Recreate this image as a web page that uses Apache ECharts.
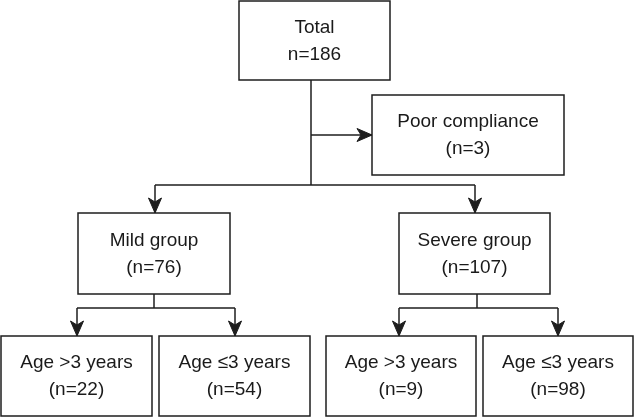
<!DOCTYPE html>
<html>
<head>
<meta charset="utf-8">
<script src="https://cdn.jsdelivr.net/npm/echarts@6/dist/echarts.min.js"></script>
<style>
  html, body { margin: 0; padding: 0; background: #fff; }
  #chart { width: 634px; height: 417px; }
</style>
</head>
<body>
<div id="chart"></div>
<script>
// flowchart content
var boxTitles = ['Total', 'Poor compliance', 'Mild group', 'Severe group',
  'Age >3 years', 'Age \u22643 years', 'Age >3 years', 'Age \u22643 years'];
var boxCounts = [186, 3, 76, 107, 22, 54, 9, 98];

// layout in diagram units (x0, y0, x1, y1), y grows downward
var boxLayout = [
  [239, 1, 390, 80],
  [372, 95, 564, 175],
  [78, 213, 230, 294],
  [399, 213, 550, 294],
  [1, 336, 152, 416],
  [159, 336, 310, 416],
  [326, 336, 476, 416],
  [483, 336, 633, 416]
];
// connectors: points, last flag = arrow at end
var connectors = [
  [[[311, 80], [311, 185]], false],
  [[[311, 135], [372, 135]], true],
  [[[155, 185], [475, 185]], false],
  [[[155, 185], [155, 213]], true],
  [[[475, 185], [475, 213]], true],
  [[[154, 294], [154, 308]], false],
  [[[77, 308], [235, 308]], false],
  [[[77, 308], [77, 336]], true],
  [[[235, 308], [235, 336]], true],
  [[[477, 294], [477, 308]], false],
  [[[399, 308], [558, 308]], false],
  [[[399, 308], [399, 336]], true],
  [[[558, 308], [558, 336]], true]
];

var lineColor = '#1e1e1e';
var textFont = '19px "Liberation Sans", Arial, sans-serif';

var myChart = echarts.init(document.getElementById('chart'));

function countLabel(i) {
  return i === 0 ? 'n=' + boxCounts[i] : '(n=' + boxCounts[i] + ')';
}

var option = {
  backgroundColor: '#fff',
  animation: false,
  grid: { left: 0, right: 0, top: 0, bottom: 0 },
  xAxis: { type: 'value', min: 0, max: 634, show: false },
  yAxis: { type: 'value', min: 0, max: 417, inverse: true, show: false },
  series: [
    {
      type: 'custom',
      clip: false,
      data: connectors.map(function (c, i) { return [c[0][0][0], c[0][0][1], i]; }),
      renderItem: function (params, api) {
        var c = connectors[params.dataIndex];
        var pts = c[0].map(function (p) { return api.coord(p); });
        var children = [{
          type: 'polyline',
          shape: { points: pts },
          style: { stroke: lineColor, lineWidth: 1.5, fill: null }
        }];
        if (c[1]) {
          var a = pts[pts.length - 2], b = pts[pts.length - 1];
          var dx = b[0] - a[0], dy = b[1] - a[1];
          var len = Math.sqrt(dx * dx + dy * dy);
          var ux = dx / len, uy = dy / len;
          var px = -uy, py = ux;
          var L = 15, W = 6.5, N = 4;
          children.push({
            type: 'polygon',
            shape: {
              points: [
                [b[0], b[1]],
                [b[0] - ux * L + px * W, b[1] - uy * L + py * W],
                [b[0] - ux * (L - N), b[1] - uy * (L - N)],
                [b[0] - ux * L - px * W, b[1] - uy * L - py * W]
              ]
            },
            style: { fill: lineColor, stroke: lineColor, lineWidth: 1 }
          });
        }
        return { type: 'group', children: children };
      }
    },
    {
      type: 'custom',
      clip: false,
      data: boxLayout.map(function (b, i) { return [b[0], b[1], b[2], b[3], boxCounts[i]]; }),
      renderItem: function (params, api) {
        var i = params.dataIndex;
        var p0 = api.coord([api.value(0), api.value(1)]);
        var p1 = api.coord([api.value(2), api.value(3)]);
        var cx = (p0[0] + p1[0]) / 2;
        var cy = (p0[1] + p1[1]) / 2;
        return {
          type: 'group',
          children: [
            {
              type: 'rect',
              shape: { x: p0[0], y: p0[1], width: p1[0] - p0[0], height: p1[1] - p0[1] },
              style: { fill: '#fff', stroke: lineColor, lineWidth: 1.5 }
            },
            {
              type: 'text',
              style: {
                text: boxTitles[i], x: cx, y: cy - 13,
                align: 'center', verticalAlign: 'middle',
                font: textFont, fill: '#1a1a1a'
              }
            },
            {
              type: 'text',
              style: {
                text: countLabel(i), x: cx, y: cy + 14,
                align: 'center', verticalAlign: 'middle',
                font: textFont, fill: '#1a1a1a'
              }
            }
          ]
        };
      }
    }
  ]
};
myChart.setOption(option);
</script>
</body>
</html>
